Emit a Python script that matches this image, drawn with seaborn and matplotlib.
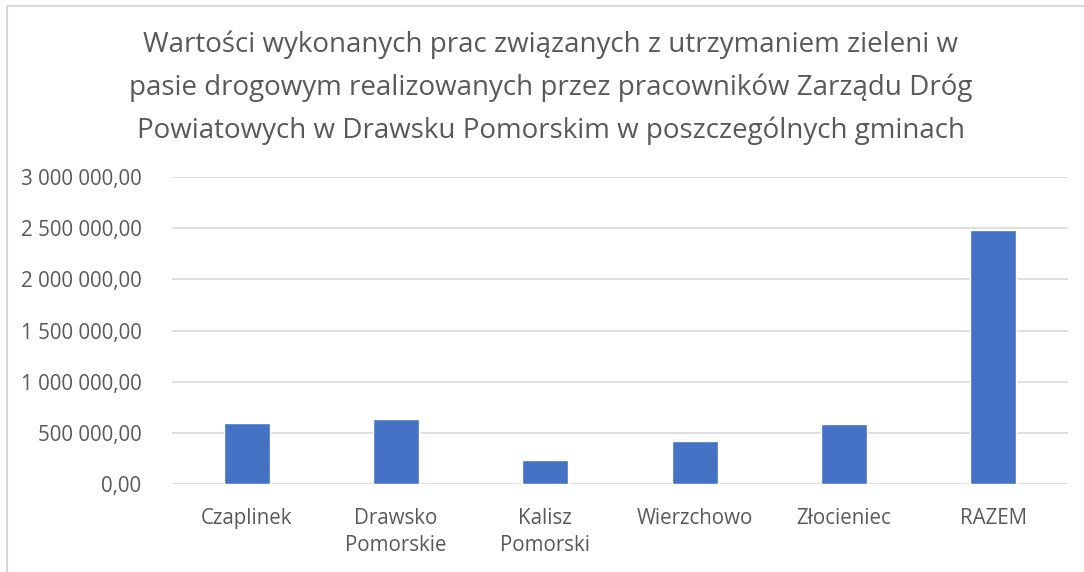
import seaborn as sns
import matplotlib.pyplot as plt
import pandas as pd
from matplotlib.lines import Line2D

# data
gminy = ['Czaplinek', 'Drawsko\nPomorskie', 'Kalisz\nPomorski', 'Wierzchowo', 'Złocieniec', 'RAZEM']
wartosci = [592000, 635000, 237000, 418000, 583000, 2480000]
y_ticks = [0, 500000, 1000000, 1500000, 2000000, 2500000, 3000000]

df = pd.DataFrame({'gmina': gminy, 'wartosc': wartosci})

sns.set_theme(style='white')
plt.rcParams['font.family'] = ['Open Sans', 'DejaVu Sans']

fig = plt.figure(figsize=(10.84, 5.72), dpi=100)
ax = fig.add_axes([172 / 1084, 1 - 484 / 572, 896 / 1084, 307 / 572])

sns.barplot(data=df, x='gmina', y='wartosc', color='#4472C4', saturation=1,
            width=0.31, ax=ax, zorder=3)

ax.set_ylim(0, 3000000)
ax.set_xlim(-0.5, 5.5)
ax.set_yticks(y_ticks)
ax.set_yticklabels([f'{v:,.2f}'.replace(',', ' ').replace('.', ',') for v in y_ticks])
ax.yaxis.grid(True, color='#d9d9d9', linewidth=1.2, zorder=0)
ax.set_xlabel('')
ax.set_ylabel('')
for s in ax.spines.values():
    s.set_visible(False)
ax.tick_params(axis='both', colors='#595959', labelsize=14.8, length=0)
ax.tick_params(axis='y', pad=22)
ax.tick_params(axis='x', pad=17)
for lbl in ax.get_xticklabels():
    lbl.set_linespacing(1.4)

fig.text(0.508, 1 - 88 / 572,
         'Wartości wykonanych prac związanych z utrzymaniem zieleni w\n'
         'pasie drogowym realizowanych przez pracowników Zarządu Dróg\n'
         'Powiatowych w Drawsku Pomorskim w poszczególnych gminach',
         ha='center', va='center', fontsize=20, color='#595959', linespacing=1.68)

# chart border (top and left visible)
fig.add_artist(Line2D([7 / 1084, 7 / 1084], [0, 1 - 6 / 572], color='#d9d9d9', lw=1.5))
fig.add_artist(Line2D([7 / 1084, 1], [1 - 6 / 572, 1 - 6 / 572], color='#d9d9d9', lw=1.5))

fig.savefig('out.png', dpi=100)
